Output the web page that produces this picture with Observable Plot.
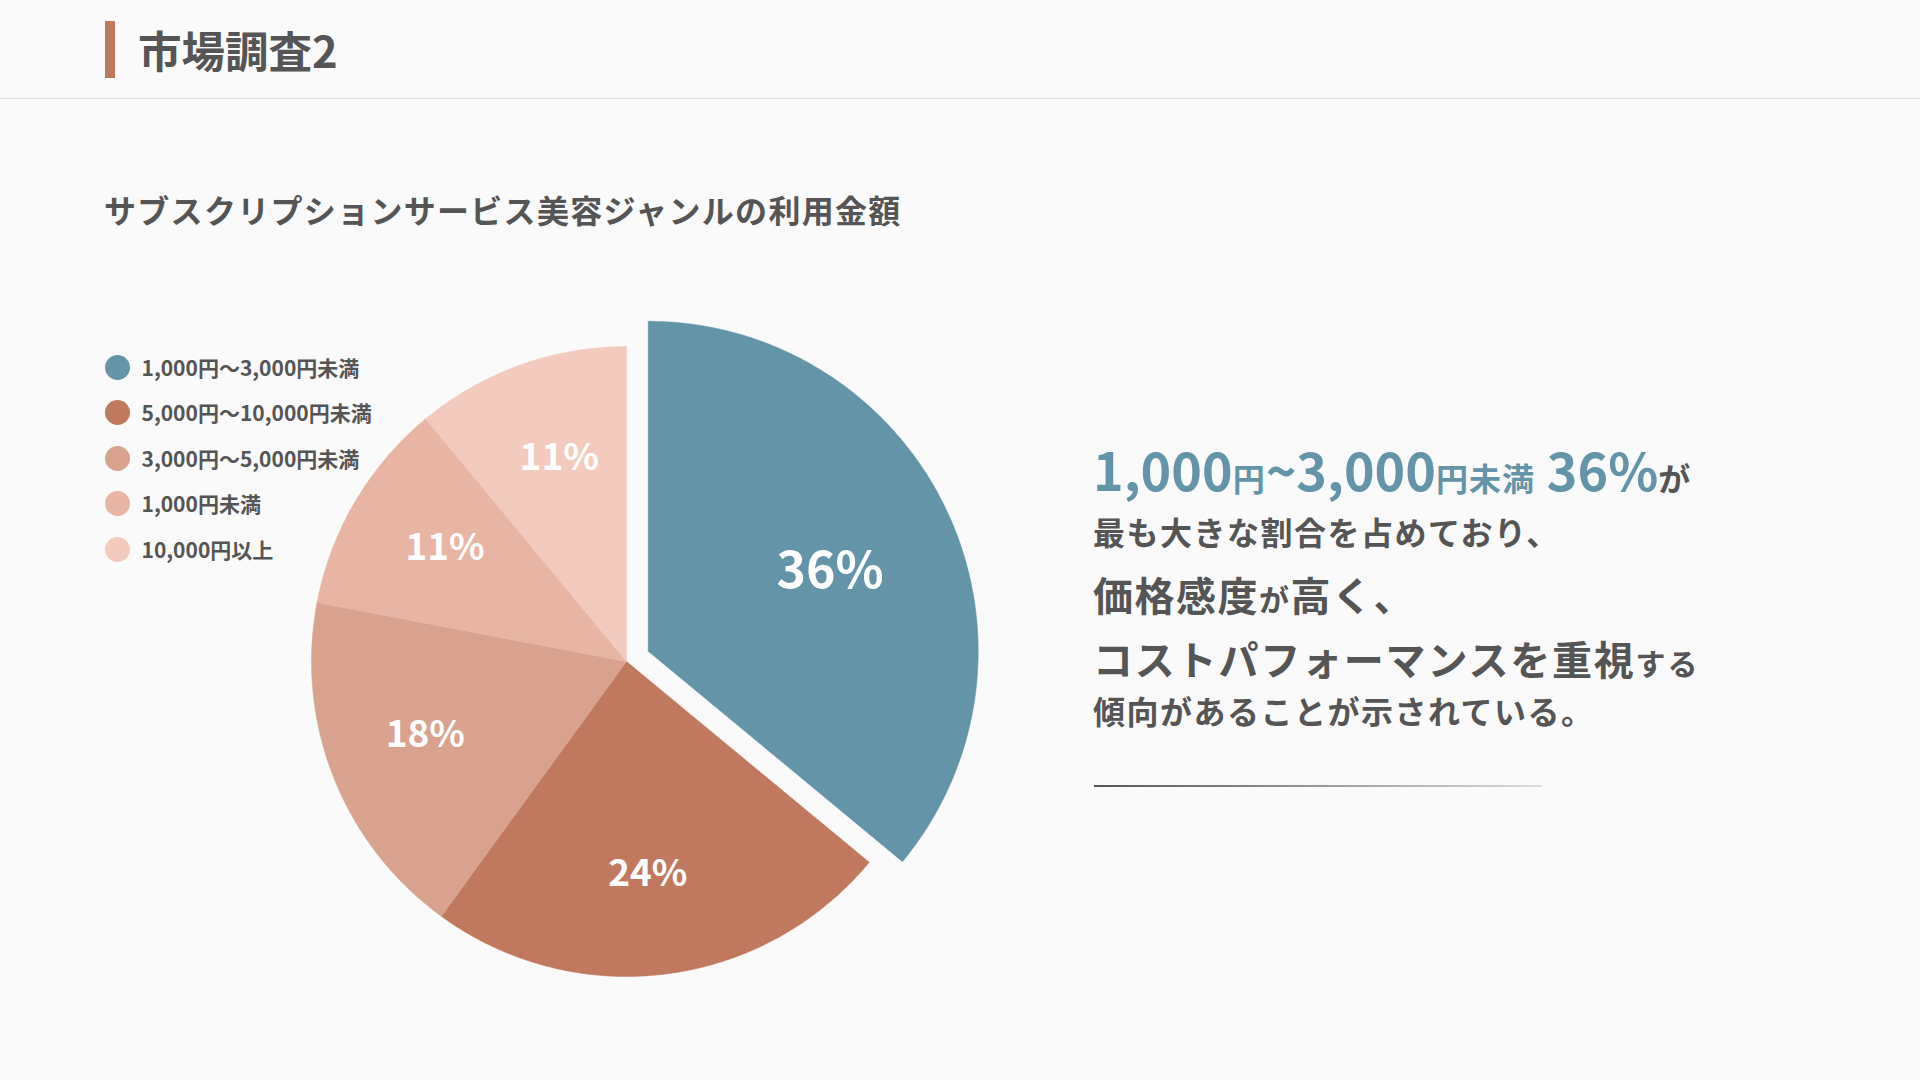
<!DOCTYPE html>
<html lang="ja">
<head>
<meta charset="utf-8">
<script src="https://cdn.jsdelivr.net/npm/d3@7"></script>
<script src="https://cdn.jsdelivr.net/npm/@observablehq/plot@0.6"></script>
<style>
  html, body { margin: 0; padding: 0; }
  body { width: 1920px; height: 1080px; overflow: hidden; background: #fafafa; font-family: "Noto Sans CJK JP", "Noto Sans", sans-serif; color: #555; position: relative; }
  .abs { position: absolute; white-space: nowrap; line-height: 1; }
  #bar { left: 105px; top: 21px; width: 10px; height: 57px; background: #c0785f; }
  #title { left: 138px; top: 28px; font-size: 43.5px; font-weight: 700; }
  #sep { left: 0; top: 98px; width: 1920px; height: 1px; background: #e0e0e0; }
  #subtitle { left: 104px; top: 193px; font-size: 32px; font-weight: 700; letter-spacing: 1.3px; }
  #legend { left: 104.5px; top: 354.5px; display: flex; flex-direction: column; gap: 20.5px; }
  .li { display: flex; align-items: center; height: 25px; }
  .sw { width: 25px; height: 25px; border-radius: 50%; flex: none; }
  .lt { margin-left: 12px; font-size: 21px; font-weight: 700; line-height: 1; letter-spacing: 0px; }
  #chart { left: 246px; top: 281px; }
  .rt { left: 1093px; font-weight: 700; }
  .blue { color: #6494a8; }
  #l1 { top: 443px; font-size: 52px; }
  #l2 { top: 515px; font-size: 32px; letter-spacing: 1.5px; }
  #l3 { top: 573.5px; font-size: 40px; letter-spacing: 1.5px; }
  #l4 { top: 637.5px; font-size: 40px; letter-spacing: 1.8px; }
  #l5 { top: 694px; font-size: 32px; letter-spacing: 1.5px; }
  .s30 { font-size: 30px; }
  .s32 { font-size: 32px; letter-spacing: 1px; }
  #rule { left: 1094px; top: 785px; width: 448px; height: 2px; background: linear-gradient(to right, #555, #ddd); }
</style>
</head>
<body>
<div id="bar" class="abs"></div>
<div id="title" class="abs">市場調査2</div>
<div id="sep" class="abs"></div>
<div id="subtitle" class="abs">サブスクリプションサービス美容ジャンルの利用金額</div>
<div id="legend" class="abs"></div>
<div id="chart" class="abs"></div>

<div id="l1" class="abs rt"><span class="blue">1,000</span><span class="blue s32">円</span><span class="blue">~3,000</span><span class="blue s32">円未満</span><span class="blue"> 36%</span><span class="s32">が</span></div>
<div id="l2" class="abs rt">最も大きな割合を占めており、</div>
<div id="l3" class="abs rt">価格感度<span class="s30">が</span>高く、</div>
<div id="l4" class="abs rt">コストパフォーマンスを重視<span class="s30">する</span></div>
<div id="l5" class="abs rt">傾向があることが示されている。</div>
<div id="rule" class="abs"></div>

<script>
// ---- data ----
const categories = ["1,000円～3,000円未満", "5,000円～10,000円未満", "3,000円～5,000円未満", "1,000円未満", "10,000円以上"];
const values = [36, 24, 18, 11, 11];
const colors = ["#6494a8", "#c0785f", "#d9a28f", "#e8b4a3", "#f2cbbe"];
const labels = ["36%", "24%", "18%", "11%", "11%"];
const explodedCategory = "1,000円～3,000円未満";

// ---- legend ----
const legend = document.getElementById("legend");
categories.forEach((c, i) => {
  const li = document.createElement("div");
  li.className = "li";
  li.innerHTML = `<span class="sw" style="background:${colors[i]}"></span><span class="lt">${c}</span>`;
  legend.appendChild(li);
});

// ---- pie geometry (in pixel units, y downward) ----
const W = 760, H = 760;
const R = 315, Rexploded = 330, explode = 24;
const labelK = 0.68, labelExtra = 8, labelRotate = 1.5 * Math.PI / 180;
const arcs = d3.pie().sort(null).startAngle(0).endAngle(2 * Math.PI)(values);
const points = [];
const labelData = [];
arcs.forEach((a, i) => {
  const cat = categories[i];
  const isEx = cat === explodedCategory;
  const mid = (a.startAngle + a.endAngle) / 2;
  const off = isEx ? explode : 0;
  const r = isEx ? Rexploded : R;
  const ox = off * Math.sin(mid), oy = -off * Math.cos(mid);
  points.push({cat, x: ox, y: oy});
  const steps = Math.max(2, Math.ceil((a.endAngle - a.startAngle) / (Math.PI / 360)));
  for (let k = 0; k <= steps; k++) {
    const t = a.startAngle + (a.endAngle - a.startAngle) * k / steps;
    points.push({cat, x: ox + r * Math.sin(t), y: oy - r * Math.cos(t)});
  }
  points.push({cat, x: ox, y: oy});
  const lr = labelK * R + (isEx ? labelExtra : 0);
  const la = mid + labelRotate;
  labelData.push({cat, text: labels[i], big: isEx,
    x: lr * Math.sin(la), y: -lr * Math.cos(la)});
});

const chart = Plot.plot({
  width: W, height: H,
  margin: 0,
  style: {background: "transparent", fontFamily: "Noto Sans CJK JP"},
  x: {domain: [-W / 2, W / 2], range: [0, W], axis: null},
  y: {domain: [-H / 2, H / 2], range: [0, H], axis: null},
  color: {domain: categories, range: colors},
  marks: [
    Plot.line(points, {x: "x", y: "y", z: "cat", fill: "cat", stroke: "cat", strokeWidth: 0.5, curve: "linear"}),
    Plot.text(labelData.filter(d => d.big), {x: "x", y: "y", text: "text", fill: "white", fontSize: 50, fontWeight: 700, fontFamily: "Noto Sans CJK JP"}),
    Plot.text(labelData.filter(d => !d.big), {x: "x", y: "y", text: "text", fill: "white", fontSize: 37, fontWeight: 700, fontFamily: "Noto Sans CJK JP"})
  ]
});
document.getElementById("chart").appendChild(chart);
</script>
</body>
</html>
